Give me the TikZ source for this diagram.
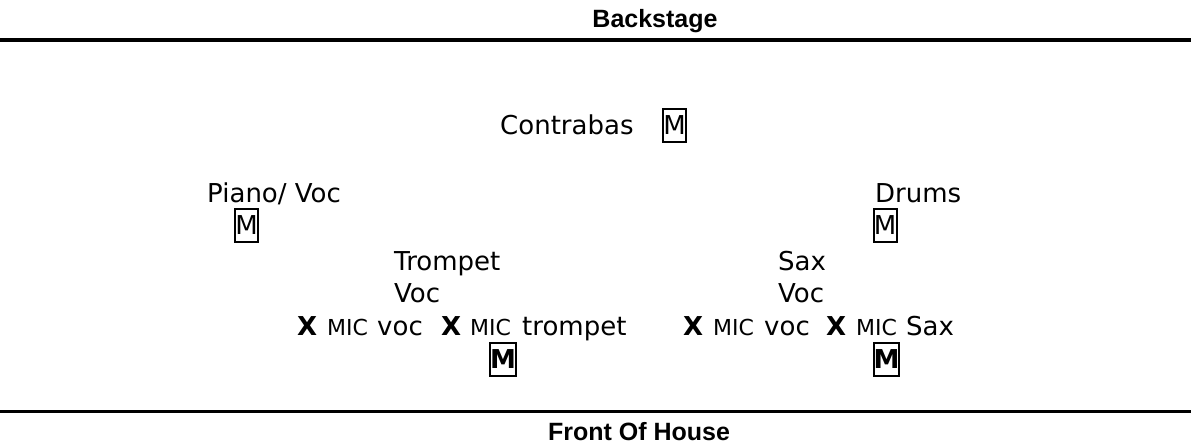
\documentclass[tikz,border=0pt]{standalone}
\usepackage{fontspec}
\setmainfont{DejaVu Sans}
\newfontfamily\hdrfont{Liberation Sans}
\begin{document}
\begin{tikzpicture}[x=1pt,y=-1pt,
  lbl/.style={inner sep=0pt, anchor=base west, font=\fontsize{26}{31}\selectfont},
  mic/.style={inner sep=0pt, anchor=base west, font=\fontsize{22}{26}\selectfont},
  xm/.style={inner sep=0pt, anchor=base west, font=\fontsize{26}{31}\selectfont\bfseries},
  hd/.style={inner sep=0pt, anchor=base, font=\hdrfont\bfseries\fontsize{25}{30}\selectfont},
  mbox/.style={draw, line width=2pt, inner sep=0pt, minimum width=23pt, minimum height=33pt, font=\fontsize{26}{31}\selectfont},
  bar/.style={line width=3.5pt}]
\useasboundingbox (0,0) rectangle (1191,445);
\fill[white] (0,0) rectangle (1191,445);
% headers and stage edges
\node[hd] (back) at (655,27) {Backstage};
\draw[bar] (0,40) -- (1191,40);
\draw[bar] (0,411.5) -- (1191,411.5);
\node[hd] (foh) at (639,440) {Front Of House};
% contrabas
\node[lbl] (cb) at (500,134.5) {Contrabas};
\node[mbox] (cbm) at (674.5,125) {M};
% piano
\node[lbl] (pv) at (207,202) {Piano/ Voc};
\node[mbox] (pvm) at (246.5,225.5) {M};
% drums
\node[lbl] (dr) at (875,202) {Drums};
\node[mbox] (drm) at (885,225.5) {M};
% trompet
\node[lbl] (tr) at (394,270) {Trompet};
\node[lbl] (trv) at (394,302) {Voc};
\node[xm] (x1) at (297,335) {X};
\node[mic] (m1) at (327,335) {MIC};
\node[lbl] (w1) at (377,335) {voc};
\node[xm] (x2) at (441,335) {X};
\node[mic] (m2) at (470,335) {MIC};
\node[lbl] (w2) at (522,335) {trompet};
\node[mbox] (trm) at (503,359) {\textbf{M}};
% sax
\node[lbl] (sx) at (778,270) {Sax};
\node[lbl] (sxv) at (778,302) {Voc};
\node[xm] (x3) at (683,335) {X};
\node[mic] (m3) at (713,335) {MIC};
\node[lbl] (w3) at (764,335) {voc};
\node[xm] (x4) at (826,335) {X};
\node[mic] (m4) at (856,335) {MIC};
\node[lbl] (w4) at (906,335) {Sax};
\node[mbox] (sxm) at (886.5,359) {\textbf{M}};
\end{tikzpicture}
\end{document}
